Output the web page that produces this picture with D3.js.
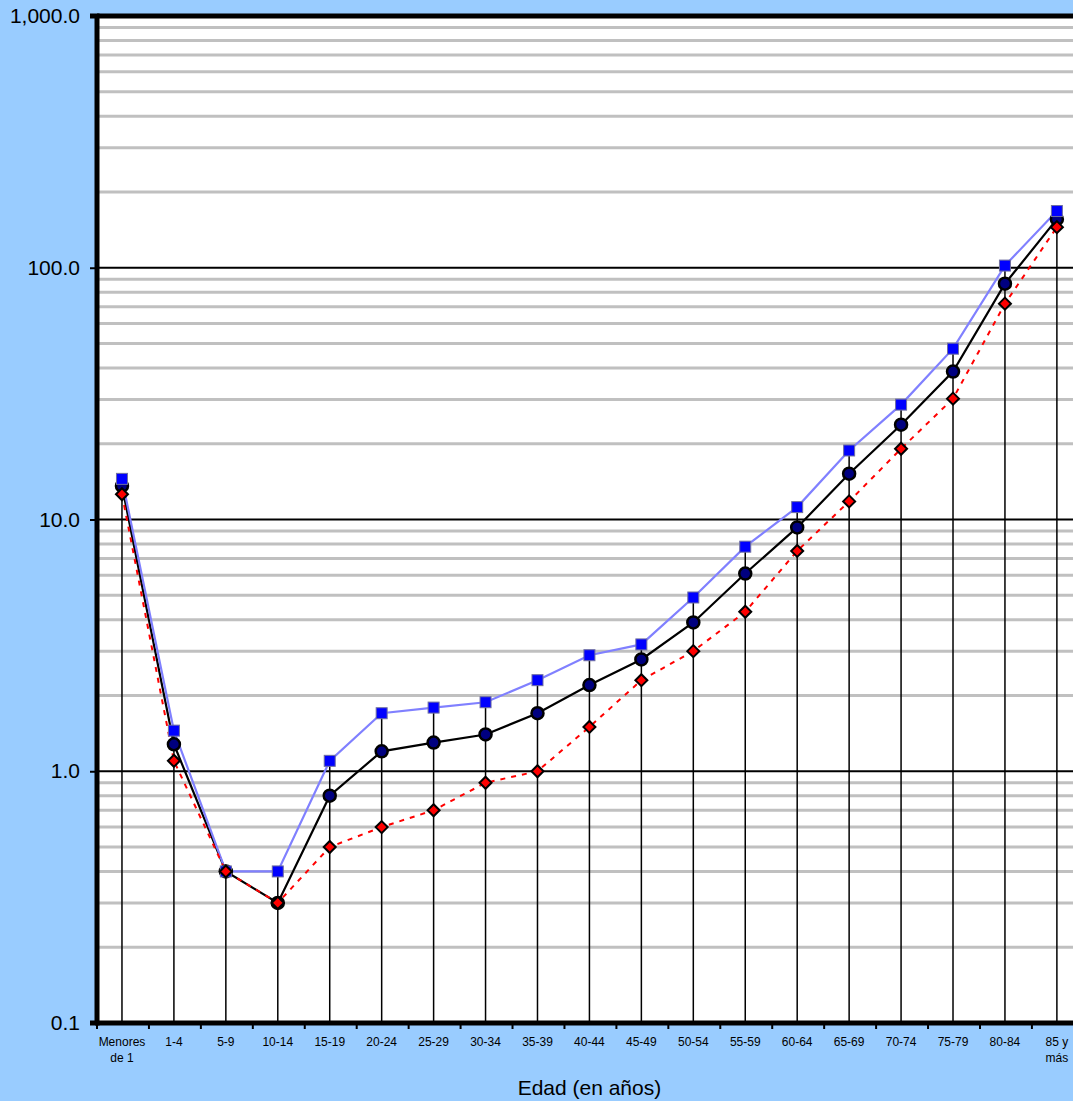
<!DOCTYPE html>
<html><head><meta charset="utf-8">
<script src="https://cdn.jsdelivr.net/npm/d3@7"></script>
<style>html,body{margin:0;padding:0;background:#99CCFF;}svg{display:block;}</style>
</head><body>
<svg id="c" width="1073" height="1101"></svg>
<script>
const categories = ["Menores\nde 1","1-4","5-9","10-14","15-19","20-24","25-29","30-34","35-39","40-44","45-49","50-54","55-59","60-64","65-69","70-74","75-79","80-84","85 y\nmás"];
const totalValues = [13.6,1.28,0.40,0.30,0.80,1.20,1.30,1.40,1.70,2.20,2.78,3.9,6.1,9.3,15.2,23.8,38.7,86.4,156];
const hombresValues = [14.5,1.45,0.40,0.40,1.10,1.70,1.79,1.88,2.30,2.89,3.19,4.9,7.8,11.2,18.8,28.6,47.7,102,168];
const mujeresValues = [12.6,1.10,0.40,0.30,0.50,0.60,0.70,0.90,1.00,1.50,2.30,3.0,4.3,7.5,11.8,19.1,30.2,72,145];
const yTickValues = [0.1,1,10,100,1000];
const yTickLabels = ["0.1","1.0","10.0","100.0","1,000.0"];
const xTitle = "Edad (en años)";

const svg = d3.select("#c");
const L = 97, T = 16, B = 1023, R = 97 + 19*51.94;
const x = d3.scaleBand().domain(d3.range(categories.length)).range([L, R]).padding(0);
const y = d3.scaleLog().domain([0.1, 1000]).range([B, T]);
const cx = i => x(i) + x.bandwidth()/2 - 1;
const FONT = "Liberation Sans, Arial, sans-serif";

// plot background
svg.append("rect").attr("x", L).attr("y", T).attr("width", R - L).attr("height", B - T).attr("fill", "#fff");

// minor gridlines
const minor = [];
for (let e = -1; e < 3; e++) for (let m = 2; m <= 9; m++) minor.push(m * Math.pow(10, e));
svg.append("g").selectAll("line").data(minor).join("line")
  .attr("x1", L).attr("x2", R).attr("y1", d => y(d)).attr("y2", d => y(d))
  .attr("stroke", "#c0c0c0").attr("stroke-width", 3);
// major gridlines
svg.append("g").selectAll("line").data([1,10,100]).join("line")
  .attr("x1", L).attr("x2", R).attr("y1", d => y(d)).attr("y2", d => y(d))
  .attr("stroke", "#000").attr("stroke-width", 2);

// drop lines
const maxV = categories.map((c, i) => Math.max(totalValues[i], hombresValues[i], mujeresValues[i]));
svg.append("g").selectAll("line").data(maxV).join("line")
  .attr("x1", (d, i) => cx(i)).attr("x2", (d, i) => cx(i))
  .attr("y1", B).attr("y2", d => y(d))
  .attr("stroke", "#000").attr("stroke-width", 1.5);

// top frame
svg.append("line").attr("x1", L).attr("x2", R).attr("y1", T).attr("y2", T).attr("stroke", "#000").attr("stroke-width", 5);

// y axis
const yAxis = d3.axisLeft(y).tickValues(yTickValues).tickFormat((d, i) => yTickLabels[i]).tickSize(7).tickPadding(10);
const gy = svg.append("g").attr("transform", `translate(${L},0)`).call(yAxis);
gy.select(".domain").attr("stroke", "#000").attr("stroke-width", 5);
gy.selectAll(".tick line").attr("stroke", "#000").attr("stroke-width", 2);
gy.selectAll(".tick text").attr("font-family", FONT).attr("font-size", 21).attr("fill", "#000");
gy.select(".domain").attr("d", `M-7,${T}H0V${B}H-7`);

// x axis
const xb = d3.scaleLinear().domain([0, categories.length]).range([L, R]);
const gx = svg.append("g").attr("transform", `translate(0,${B})`);
gx.append("line").attr("x1", L - 2).attr("x2", R).attr("y1", 0).attr("y2", 0).attr("stroke", "#000").attr("stroke-width", 5);
gx.selectAll("line.tk").data(d3.range(categories.length + 1)).join("line").attr("class", "tk")
  .attr("x1", d => xb(d)).attr("x2", d => xb(d)).attr("y1", 0).attr("y2", 6)
  .attr("stroke", "#000").attr("stroke-width", 2);
const xl = gx.selectAll("text").data(categories).join("text")
  .attr("x", (d, i) => cx(i)).attr("y", 23).attr("text-anchor", "middle")
  .attr("font-family", FONT).attr("font-size", 12).attr("fill", "#000");
xl.each(function(d) {
  const parts = d.split("\n");
  d3.select(this).selectAll("tspan").data(parts).join("tspan")
    .attr("x", d3.select(this).attr("x")).attr("dy", (p, k) => k === 0 ? 0 : 16).text(p => p);
});
svg.append("text").attr("x", (L + R) / 2 - 1).attr("y", 1095).attr("text-anchor", "middle")
  .attr("font-family", FONT).attr("font-size", 21).attr("fill", "#000").text(xTitle);

const line = d3.line().x((d, i) => cx(i)).y(d => y(d));

svg.append("path").datum(totalValues).attr("d", line).attr("fill", "none").attr("stroke", "#000").attr("stroke-width", 2.2);
svg.append("path").datum(hombresValues).attr("d", line).attr("fill", "none").attr("stroke", "#8080FF").attr("stroke-width", 2.2);
svg.append("path").datum(mujeresValues).attr("d", line).attr("fill", "none").attr("stroke", "#FF0000").attr("stroke-width", 2).attr("stroke-dasharray", "5,6");

// markers
svg.append("g").selectAll("circle").data(totalValues).join("circle")
  .attr("cx", (d, i) => cx(i)).attr("cy", d => y(d)).attr("r", 6)
  .attr("fill", "#000080").attr("stroke", "#000").attr("stroke-width", 2.5);
svg.append("g").selectAll("rect").data(hombresValues).join("rect")
  .attr("x", (d, i) => cx(i) - 5.5).attr("y", d => y(d) - 5.5).attr("width", 11).attr("height", 11)
  .attr("fill", "#0000FF").attr("stroke", "#7070a0").attr("stroke-width", 1);
svg.append("g").selectAll("path").data(mujeresValues).join("path")
  .attr("transform", (d, i) => `translate(${cx(i)},${y(d)})`)
  .attr("d", "M0,-6L6,0L0,6L-6,0Z")
  .attr("fill", "#FF0000").attr("stroke", "#000").attr("stroke-width", 2);
</script>
</body></html>
